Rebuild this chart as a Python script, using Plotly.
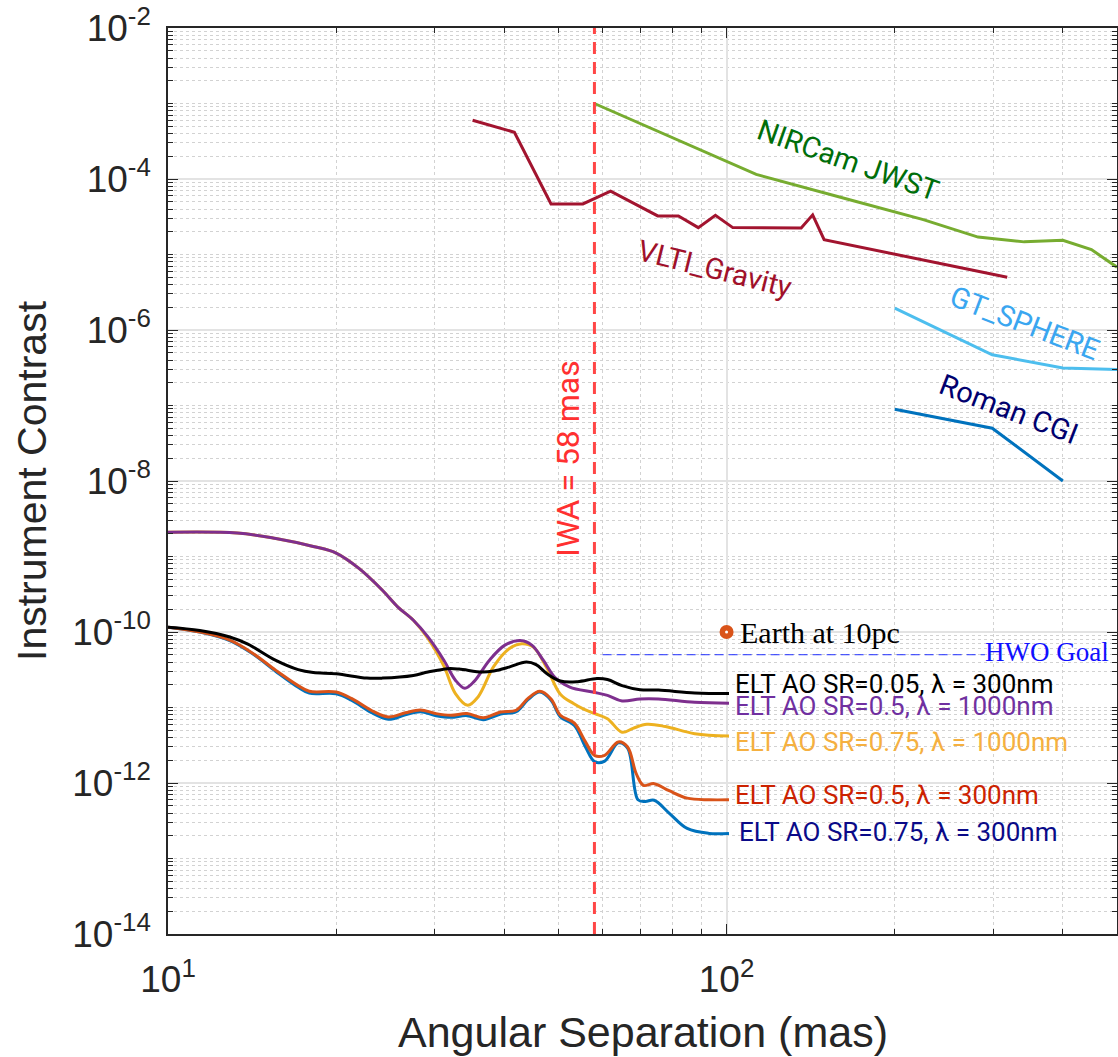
import math
import plotly.graph_objects as go

# ------------------------------------------------------------------ data
nircam_x = [58, 113, 168, 225, 282, 341, 400, 450, 500]
nircam_y = [1.0e-3, 1.15e-4, 5.2e-5, 2.9e-5, 1.7e-5, 1.47e-5, 1.54e-5, 1.16e-5, 6.8e-6]

vlti_x = [35.1, 41.7, 48.5, 55.3, 62, 75.3, 82, 89, 95.5, 102.6, 136, 142.6, 149.5, 318]
vlti_y = [6.0e-4, 4.16e-4, 4.67e-5, 4.67e-5, 6.9e-5, 3.24e-5, 3.24e-5, 2.27e-5, 3.3e-5,
          2.27e-5, 2.25e-5, 3.35e-5, 1.57e-5, 5.0e-6]

sphere_x = [200, 299, 400, 500]
sphere_y = [1.95e-6, 4.7e-7, 3.14e-7, 3.0e-7]

roman_x = [200, 299, 400]
roman_y = [8.9e-8, 5.0e-8, 1.0e-8]

# ELT AO SR=0.5, lambda=1000nm (purple)
p1000_x = [10, 13.3, 15.6, 18.2, 20, 22, 24.2, 25.8, 27.5, 29.2, 31.2, 32.7, 34, 35.3, 37.6,
           40.1, 42.7, 44.8, 47, 49.3, 52.4, 57.6, 61.2, 65, 70, 75.5, 87.7, 101]
p1000_y = [2.1e-9, 2.05e-9, 1.73e-9, 1.36e-9, 1.11e-9, 6.9e-10, 3.57e-10, 2.14e-10, 1.43e-10,
           8.6e-11, 4.2e-11, 2.3e-11, 1.8e-11, 2.2e-11, 4.2e-11, 6.7e-11, 7.7e-11, 6.7e-11,
           4.2e-11, 2.5e-11, 1.86e-11, 1.6e-11, 1.45e-11, 1.22e-11, 1.3e-11, 1.3e-11,
           1.17e-11, 1.14e-11]

# ELT AO SR=0.75, lambda=1000nm (yellow)
y1000_x = [10, 13.3, 15.6, 18.2, 20, 22, 24.2, 25.8, 27.5, 29.2, 31.2, 32.7, 34.4, 35.9, 38.3,
           40.8, 43, 45.1, 47.7, 50.4, 53.2, 55.5, 58.1, 61.2, 65, 68, 72, 77.7, 87.7, 101]
y1000_y = [2.1e-9, 2.05e-9, 1.73e-9, 1.36e-9, 1.11e-9, 6.9e-10, 3.57e-10, 2.14e-10, 1.43e-10,
           8.2e-11, 3.5e-11, 1.53e-11, 1.07e-11, 1.38e-11, 3.5e-11, 6.0e-11, 7.0e-11, 6.3e-11,
           3.3e-11, 1.5e-11, 1.13e-11, 9.5e-12, 8.3e-12, 7.1e-12, 4.7e-12, 5.3e-12, 6.0e-12,
           5.6e-12, 4.5e-12, 4.2e-12]

# ELT AO SR=0.05, lambda=300nm (black)
b300_x = [10, 11.4, 12.9, 13.9, 15.6, 17.1, 18.2, 20, 22.7, 24.2, 27.5, 29.2, 31.7, 33.2, 36.5,
          38.3, 40.8, 43.8, 45.6, 47.7, 50.4, 54.1, 58.6, 61.2, 65, 70, 75.5, 87.7, 101]
b300_y = [1.16e-10, 1.05e-10, 8.6e-11, 6.9e-11, 4.2e-11, 3.17e-11, 2.9e-11, 2.8e-11, 2.45e-11,
          2.45e-11, 2.66e-11, 2.95e-11, 3.27e-11, 3.23e-11, 2.95e-11, 3.05e-11, 3.43e-11,
          4.0e-11, 3.7e-11, 2.8e-11, 2.24e-11, 2.2e-11, 2.42e-11, 2.35e-11, 1.95e-11,
          1.72e-11, 1.7e-11, 1.56e-11, 1.53e-11]

# ELT AO SR=0.5, lambda=300nm (orange)
o300_x = [10, 11.4, 12.9, 14.2, 15.6, 17.1, 17.9, 20, 21.3, 23.1, 24.8, 26.6, 28.3, 30.2, 32.1,
          34.3, 36.7, 39.4, 42, 44.1, 46.3, 48.5, 50.4, 53.4, 55.9, 58.1, 60.5, 64, 66.5, 68.9,
          71, 74.2, 78.9, 85, 93, 101]
o300_y = [1.16e-10, 1.0e-10, 7.8e-11, 5.2e-11, 3.1e-11, 1.95e-11, 1.64e-11, 1.6e-11, 1.32e-11,
          9.2e-12, 7.5e-12, 8.5e-12, 9.3e-12, 8.3e-12, 7.9e-12, 8.3e-12, 7.3e-12, 8.7e-12,
          9.2e-12, 1.32e-11, 1.64e-11, 1.3e-11, 7.9e-12, 6.2e-12, 3.5e-12, 2.3e-12, 2.33e-12,
          3.5e-12, 3.0e-12, 1.33e-12, 9.3e-13, 9.8e-13, 7.9e-13, 6.3e-13, 6.0e-13, 6.0e-13]

# ELT AO SR=0.75, lambda=300nm (blue)
bl300_x = [10, 11.4, 12.9, 14.2, 15.6, 17.1, 17.9, 20, 21.3, 23.1, 24.8, 26.6, 28.3, 30.2, 32.1,
           34.3, 36.7, 39.4, 42, 44.1, 46.3, 48.5, 50.4, 53.4, 55.9, 58.1, 60.5, 64, 66.5, 69.4,
           71.5, 74.2, 78.9, 85, 93, 101]
bl300_y = [1.16e-10, 1.0e-10, 7.7e-11, 5.1e-11, 3.0e-11, 1.85e-11, 1.55e-11, 1.52e-11, 1.25e-11,
           8.6e-12, 7.0e-12, 8.0e-12, 8.8e-12, 7.8e-12, 7.4e-12, 7.8e-12, 6.9e-12, 8.2e-12,
           8.8e-12, 1.27e-11, 1.6e-11, 1.25e-11, 7.5e-12, 5.8e-12, 3.0e-12, 1.9e-12, 1.95e-12,
           3.4e-12, 2.9e-12, 6.0e-13, 5.7e-13, 5.9e-13, 4.0e-13, 2.5e-13, 2.15e-13, 2.15e-13]

earth_x = [100]
earth_y = [1e-10]

hwo_x = [60, 290]
hwo_y = [5e-11, 5e-11]

iwa_x = [58, 58]
iwa_y = [1e-14, 1e-2]

x_tickvals = [10, 100]
x_ticktext = ["10<sup>1</sup>", "10<sup>2</sup>"]
y_tickvals = [1e-14, 1e-12, 1e-10, 1e-8, 1e-6, 1e-4, 1e-2]
y_ticktext = ["10<sup>-14</sup>", "10<sup>-12</sup>", "10<sup>-10</sup>", "10<sup>-8</sup>",
              "10<sup>-6</sup>", "10<sup>-4</sup>", "10<sup>-2</sup>"]

# ------------------------------------------------------------------ figure
fig = go.Figure()

def line(x, y, color, width=3, dash=None, shape="linear"):
    fig.add_trace(go.Scatter(x=x, y=y, mode="lines", line=dict(color=color, width=width,
                             dash=dash, shape=shape), hoverinfo="skip", showlegend=False))

line(nircam_x, nircam_y, "#77ac30")
line(vlti_x, vlti_y, "#a2142f")
line(sphere_x, sphere_y, "#4dbeee")
line(roman_x, roman_y, "#0072bd")

line(bl300_x, bl300_y, "#0072bd", shape="spline")
line(o300_x, o300_y, "#d95319", shape="spline")
line(y1000_x, y1000_y, "#edb120", shape="spline")
line(p1000_x, p1000_y, "#7e2f8e", shape="spline")
line(b300_x, b300_y, "#000000", shape="spline")

line(iwa_x, iwa_y, "#ff4646", width=3, dash="12px,8px")
line(hwo_x, hwo_y, "#2030ff", width=1, dash="9px,5px")

fig.add_trace(go.Scatter(x=earth_x, y=earth_y, mode="markers",
                         marker=dict(size=14, color="#d95319", line=dict(width=0)),
                         hoverinfo="skip", showlegend=False))
fig.add_trace(go.Scatter(x=earth_x, y=earth_y, mode="markers",
                         marker=dict(size=3, color="#ffffff", line=dict(width=0)),
                         hoverinfo="skip", showlegend=False))

def ann(text, lx, ly, color, size, family="Roboto", angle=0, xanchor="center"):
    fig.add_annotation(text=text, x=lx, y=ly, xref="x", yref="y", showarrow=False,
                       textangle=angle, xanchor=xanchor, yanchor="middle",
                       font=dict(family=family, size=size, color=color))

ann("NIRCam JWST", 2.2165, -3.752, "#006e0a", 29, angle=19.5)
ann("VLTI_Gravity", 1.980, -5.196, "#a0102a", 29, angle=14)
ann("GT_SPHERE", 2.533, -5.911, "#3aa6f0", 29, angle=21)
ann("Roman CGI", 2.5045, -7.05, "#00006e", 29, angle=21)
ann("IWA = 58 mas", 1.717, -7.70, "#ff3030", 32, angle=-90)

ann("Earth at 10pc", 2.021, -10.0, "#000000", 30, family="Liberation Serif", xanchor="left")
ann("HWO Goal", 2.689, -10.27, "#1010ff", 27, family="Liberation Serif", xanchor="right")

ann("ELT AO SR=0.05, λ = 300nm", 2.012, -10.693, "#000000", 26, xanchor="left")
ann("ELT AO SR=0.5, λ = 1000nm", 2.012, -10.984, "#7030a0", 26, xanchor="left")
ann("ELT AO SR=0.75, λ = 1000nm", 2.012, -11.457, "#f5b040", 26, xanchor="left")
ann("ELT AO SR=0.5, λ = 300nm", 2.012, -12.163, "#cc2200", 26, xanchor="left")
ann("ELT AO SR=0.75, λ = 300nm", 2.018, -12.649, "#0a0a88", 26, xanchor="left")

# axis titles
fig.add_annotation(text="Instrument Contrast", xref="paper", yref="paper", x=-0.1433, y=0.5,
                   xanchor="center", yanchor="middle", textangle=-90, showarrow=False,
                   font=dict(family="Liberation Sans", size=41, color="#262626"))
fig.add_annotation(text="Angular Separation (mas)", xref="paper", yref="paper", x=0.5,
                   y=-0.108, xanchor="center", yanchor="middle", showarrow=False,
                   font=dict(family="Liberation Sans", size=43, color="#262626"))

x_minor = [m * 10 ** k for k in (1, 2) for m in range(2, 10) if m * 10 ** k <= 500]
y_minor = [m * 10.0 ** k for k in range(-14, -2) for m in range(1, 10)
           if not (m == 1 and k % 2 == 0)]

axis_common = dict(type="log", showline=True, linecolor="#262626", linewidth=1.5,
                   mirror="allticks", ticks="inside", ticklen=10, tickwidth=1,
                   tickcolor="#262626", showgrid=True, gridcolor="#e3e3e3", gridwidth=1.5,
                   zeroline=False, tickmode="array", automargin=False,
                   tickfont=dict(family="Liberation Sans", size=37, color="#262626"))

fig.update_xaxes(range=[1, math.log10(500)], tickvals=x_tickvals, ticktext=x_ticktext,
                 ticklabelstandoff=12,
                 minor=dict(tickmode="array", tickvals=x_minor, ticks="inside", ticklen=5,
                            tickcolor="#262626", showgrid=True, gridcolor="#d2d2d2",
                            griddash="dot", gridwidth=1), **axis_common)
fig.update_yaxes(range=[-14, -2], tickvals=y_tickvals, ticktext=y_ticktext,
                 ticklabelstandoff=8,
                 minor=dict(tickmode="array", tickvals=y_minor, ticks="inside", ticklen=5,
                            tickcolor="#262626", showgrid=True, gridcolor="#d2d2d2",
                            griddash="dot", gridwidth=1), **axis_common)

fig.update_layout(width=1118, height=1057, margin=dict(l=168, r=1, t=28, b=123),
                  plot_bgcolor="white", paper_bgcolor="white", showlegend=False)

fig.write_html("out.html", config={"displayModeBar": False},
               post_script="document.body.style.margin='0';"
                           "document.body.style.overflow='hidden';")
